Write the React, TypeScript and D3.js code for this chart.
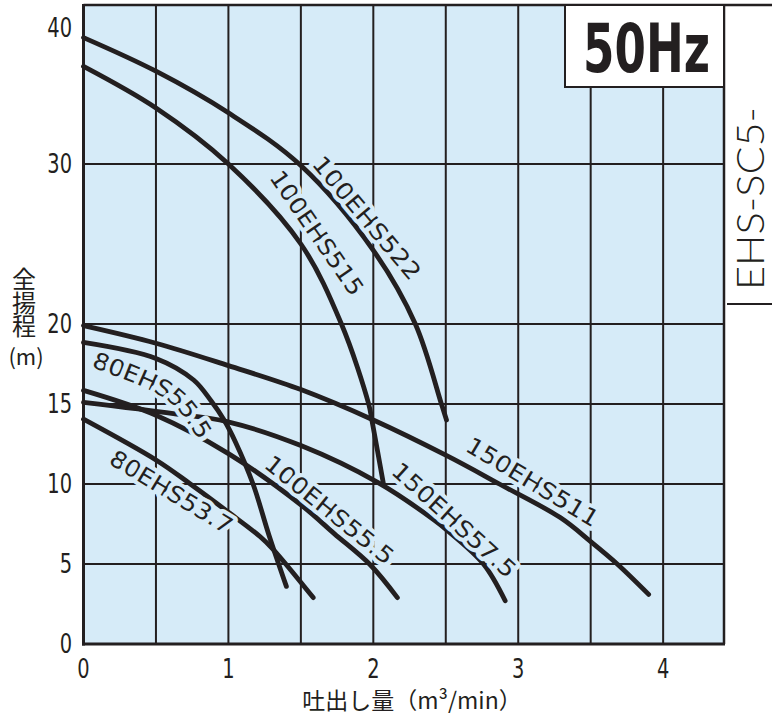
import * as d3 from 'd3';

type Pt = [number, number];

// axis values
const xTicks = [0, 1, 2, 3, 4];
const yTicks = [0, 5, 10, 15, 20, 30, 40];
const xGrid = [0.5, 1, 1.5, 2, 2.5, 3, 3.5, 4];
const yGrid = [5, 10, 15, 20, 30];

// pump curves: [discharge m3/min, total head m]
const c100EHS522: Pt[] = [[0, 37.9], [0.5, 35.8], [1.0, 33.2], [1.5, 29.9], [2.0, 24.6], [2.29, 20], [2.47, 15], [2.505, 14]];
const c100EHS515: Pt[] = [[0, 36.1], [0.5, 33.5], [1.0, 30.0], [1.5, 25.0], [1.78, 20], [1.968, 15], [1.99, 14], [2.07, 10]];
const c150EHS511: Pt[] = [[0, 19.9], [0.5, 18.8], [1.0, 17.4], [1.5, 15.9], [2.0, 14.0], [2.5, 11.8], [2.87, 10.0], [3.29, 7.9], [3.5, 6.4], [3.683, 5.0], [3.9, 3.1]];
const c80EHS555: Pt[] = [[0, 18.85], [0.5, 17.85], [0.76, 16.5], [0.88, 15.2], [0.97, 14.0], [1.05, 12.6], [1.17, 10.0], [1.28, 6.8], [1.4, 3.6]];
const c150EHS575: Pt[] = [[0, 15.1], [0.62, 14.4], [0.99, 13.9], [1.5, 12.4], [2.03, 10.1], [2.42, 7.75], [2.51, 7.1], [2.76, 5.0], [2.91, 2.7]];
const c100EHS555: Pt[] = [[0, 15.85], [0.5, 14.3], [1.0, 11.9], [1.5, 8.7], [1.73, 6.9], [1.98, 4.94], [2.166, 2.9]];
const c80EHS537: Pt[] = [[0, 14.05], [0.5, 11.5], [0.73, 10.05], [1.01, 8.17], [1.22, 6.7], [1.31, 5.9], [1.585, 2.9]];

const curves: Pt[][] = [c100EHS522, c100EHS515, c150EHS511, c80EHS555, c150EHS575, c100EHS555, c80EHS537];

// curve labels, laid along a guide given in data units
const labelNames = ['100EHS522', '100EHS515', '150EHS511', '150EHS57.5', '100EHS55.5', '80EHS55.5', '80EHS53.7'];
const labelGuides: Pt[][] = [
    [[1.613, 30.3], [2.297, 22.95]],
    [[1.323, 29.44], [1.896, 21.94]],
    [[2.654, 12.56], [3.543, 7.69]],
    [[2.153, 11.08], [2.962, 4.42]],
    [[1.271, 11.48], [2.123, 5.27]],
    [[0.07, 17.8], [0.45, 16.45], [0.68, 15.1], [0.845, 12.95]],
    [[0.196, 11.74], [1.015, 7.26]],
];

const W = 772;
const H = 716;
const ink = '#231f20';
const bg = '#d6ebf8';
const narrow = "'DejaVu Sans Condensed', 'DejaVu Sans', sans-serif";
const light = "Lato, 'DejaVu Sans', sans-serif";
const cjk = "'Noto Sans CJK JP', 'Noto Sans CJK SC', sans-serif";

export default function App() {
    const x = d3.scaleLinear().domain([0, 4.42]).range([83.5, 724]);
    const y = d3.scaleLinear().domain([0, 40]).range([644, 4]);
    const [x0, x1] = x.range();
    const [y0, y1] = y.range();

    const curveLine = d3
        .line<Pt>()
        .x((d) => x(d[0]))
        .y((d) => y(d[1]))
        .curve(d3.curveCatmullRom.alpha(0.5));
    const guideLine = d3
        .line<Pt>()
        .x((d) => x(d[0]))
        .y((d) => y(d[1]))
        .curve(d3.curveNatural);

    const guideLength = (pts: Pt[]) =>
        d3.sum(pts.slice(1), (p, i) => Math.hypot(x(p[0]) - x(pts[i][0]), y(p[1]) - y(pts[i][1])));

    return (
        <svg width={W} height={H} style={{ position: 'absolute', left: 0, top: 0, background: '#fff' }}>
            <defs>
                {labelGuides.map((g, i) => (
                    <path key={i} id={`guide${i}`} d={guideLine(g) ?? ''} />
                ))}
            </defs>

            <rect x={x0} y={y1} width={x1 - x0} height={y0 - y1} fill={bg} />

            <g stroke={ink} strokeWidth={2}>
                {xGrid.map((v) => (
                    <line key={v} x1={x(v)} x2={x(v)} y1={y1} y2={y0} />
                ))}
                {yGrid.map((v) => (
                    <line key={v} x1={x0} x2={x1} y1={y(v)} y2={y(v)} />
                ))}
            </g>

            <g fill="none" stroke={ink} strokeWidth={4.8} strokeLinecap="round" strokeLinejoin="round">
                {curves.map((c, i) => (
                    <path key={i} d={curveLine(c) ?? ''} />
                ))}
            </g>

            <g
                fontFamily={narrow}
                fontSize={23}
                fill={ink}
                stroke={bg}
                strokeWidth={8}
                strokeLinejoin="round"
                style={{ paintOrder: 'stroke' }}
            >
                {labelNames.map((t, i) => (
                    <text key={t} dominantBaseline="central">
                        <textPath
                            href={`#guide${i}`}
                            textLength={guideLength(labelGuides[i])}
                            lengthAdjust="spacingAndGlyphs"
                        >
                            {t}
                        </textPath>
                    </text>
                ))}
            </g>

            {/* frame */}
            <g stroke={ink} fill="none">
                <line x1={x0} x2={x0} y1={y1} y2={y0 + 1.5} strokeWidth={3} />
                <line x1={x0 - 1.5} x2={x1 + 1} y1={y0} y2={y0} strokeWidth={3} />
                <line x1={x0} x2={W} y1={y1 + 1} y2={y1 + 1} strokeWidth={2.5} />
                <line x1={x1} x2={x1} y1={y1} y2={y0} strokeWidth={2.5} />
                <line x1={x1 + 3} x2={W} y1={304} y2={304} strokeWidth={2} />
            </g>

            {/* 50Hz badge */}
            <rect x={565} y={y1 + 1} width={x1 - 565} height={82} fill="#fff" stroke={ink} strokeWidth={2} />
            <text x={583} y={72} fontFamily={narrow} fontWeight="bold" fontSize={68} textLength={127} lengthAdjust="spacingAndGlyphs" fill={ink}>
                50Hz
            </text>

            <text
                transform="translate(764,290) rotate(-90)"
                fontFamily={light}
                fontWeight={300}
                fontSize={37}
                textLength={183}
                lengthAdjust="spacingAndGlyphs"
                fill={ink}
            >
                EHS-SC5-
            </text>

            {/* tick labels */}
            <g fontFamily={narrow} fontSize={27} fill={ink}>
                {yTicks.map((v) => (
                    <text
                        key={v}
                        transform={`translate(72,${Math.max(y(v), y(40) + 24)}) scale(0.8,1)`}
                        textAnchor="end"
                        dominantBaseline="central"
                    >
                        {v}
                    </text>
                ))}
                {xTicks.map((v) => (
                    <text
                        key={v}
                        transform={`translate(${x(v)},${y(0) + 25}) scale(0.8,1)`}
                        textAnchor="middle"
                        dominantBaseline="central"
                    >
                        {v}
                    </text>
                ))}
            </g>

            {/* axis titles */}
            <g fontFamily={cjk} fill={ink}>
                {['全', '揚', '程'].map((c, i) => (
                    <text key={c} x={24} y={288 + i * 23.5} fontSize={24} textAnchor="middle">
                        {c}
                    </text>
                ))}
                <text x={26} y={365} fontSize={22} textAnchor="middle">
                    (m)
                </text>
                <text x={412} y={709} fontSize={23} textAnchor="middle">
                    吐出し量（m³/min）
                </text>
            </g>
        </svg>
    );
}
